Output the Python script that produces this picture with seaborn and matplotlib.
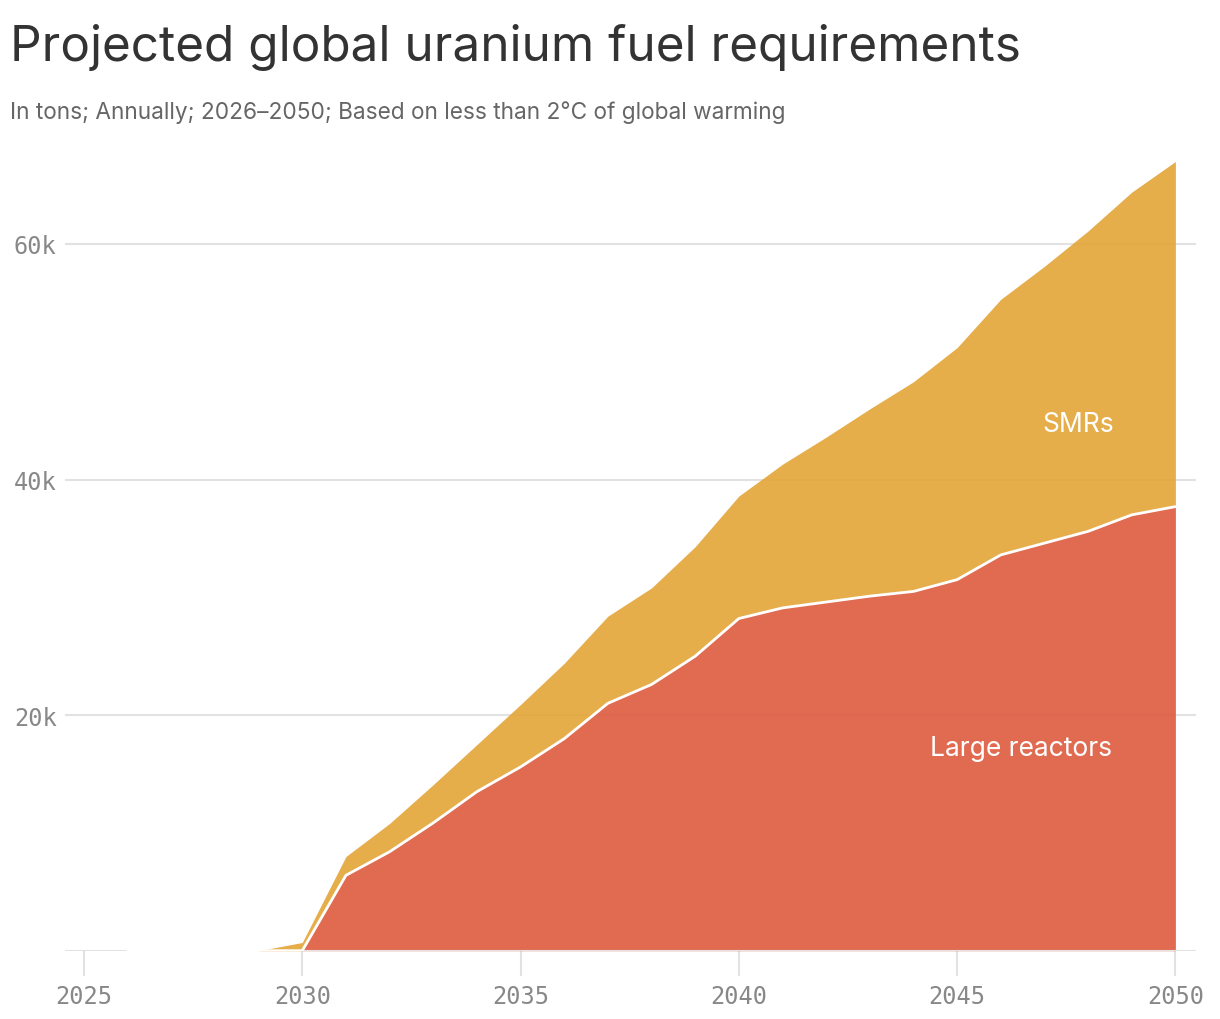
import matplotlib
matplotlib.use("Agg")
import matplotlib.pyplot as plt
import seaborn as sns
import pandas as pd
import numpy as np

# ---- data (tons, annually) ----
years = list(range(2026, 2051))
large_reactors = [0, 0, 0, 0, 0,
                  6400, 8400, 10850, 13500, 15600, 18000, 21000, 22600, 25000, 28200,
                  29100, 29600, 30100, 30500, 31500, 33600, 34600, 35600, 37000, 37700]
total_required = [0, 0, 0, 0, 700,
                  8000, 10800, 14100, 17500, 20900, 24400, 28400, 30800, 34300, 38600,
                  41300, 43600, 46000, 48300, 51200, 55300, 58100, 61100, 64400, 67000]
smrs = [t - l for t, l in zip(total_required, large_reactors)]

x_ticks = [2025, 2030, 2035, 2040, 2045, 2050]
y_ticks = [20000, 40000, 60000]
y_tick_labels = ["20k", "40k", "60k"]

df = pd.DataFrame({"year": years, "Large reactors": large_reactors, "SMRs": smrs})
df["top"] = df["Large reactors"] + df["SMRs"]

# ---- style ----
sns.set_theme(style="white")
plt.rcParams["font.family"] = ["Inter", "DejaVu Sans"]

RED = "#de5e42"
YELLOW = "#e4a73b"
GRID = "#e2e2e2"
MONO = "DejaVu Sans Mono"

fig = plt.figure(figsize=(12.2, 10.2), dpi=100)
ax = fig.add_axes([65 / 1220, 1 - 951.7 / 1020, (1196 - 65) / 1220, (951.7 - 150.7) / 1020])

# gridlines
for yv in y_ticks:
    ax.axhline(yv, color=GRID, lw=1.5, zorder=0)

# stacked areas
smr_mask = df["top"] > 0
smr_mask = smr_mask | smr_mask.shift(-1, fill_value=False)
ax.fill_between(df["year"][smr_mask], df["Large reactors"][smr_mask], df["top"][smr_mask],
                color=YELLOW, alpha=0.92, lw=0, zorder=2)
ax.fill_between(df["year"], 0, df["Large reactors"], color=RED, alpha=0.92, lw=0, zorder=2)

# baseline
ax.axhline(0, color=GRID, lw=1.5, zorder=2.5)

# white separating line
sns.lineplot(data=df, x="year", y="Large reactors", color="white", lw=2, ax=ax, zorder=3)

ax.set_xlim(2025 - 19 / 43.65, 2050 + 20.6 / 43.65)
ax.set_ylim(0, 68000)

ax.set_xticks(x_ticks)
ax.set_xticklabels([str(v) for v in x_ticks])
ax.set_yticks(y_ticks)
ax.set_yticklabels(y_tick_labels)
ax.tick_params(axis="x", length=18, width=1.5, color=GRID, pad=6, labelsize=17,
               labelcolor="#888888", bottom=True)
ax.tick_params(axis="y", length=0, pad=6, labelsize=17, labelcolor="#888888", left=True)
for lab in ax.get_xticklabels() + ax.get_yticklabels():
    lab.set_fontfamily(MONO)
ax.set_xlabel("")
ax.set_ylabel("")
for s in ax.spines.values():
    s.set_visible(False)

# in-chart labels
ax.text(2047.77, 44700, "SMRs", color="white", fontsize=19, ha="center", va="center", zorder=4)
ax.text(2046.47, 17200, "Large reactors", color="white", fontsize=19, ha="center", va="center", zorder=4)

# titles
fig.text(10 / 1220, 1 - 61 / 1020, "Projected global uranium fuel requirements",
         fontsize=35.6, color="#333333", ha="left", va="baseline")
fig.text(10 / 1220, 1 - 119 / 1020,
         "In tons; Annually; 2026\u20132050; Based on less than 2\u00b0C of global warming",
         fontsize=16.3, color="#666666", ha="left", va="baseline")

fig.savefig("out.png", dpi=100, facecolor="white")
